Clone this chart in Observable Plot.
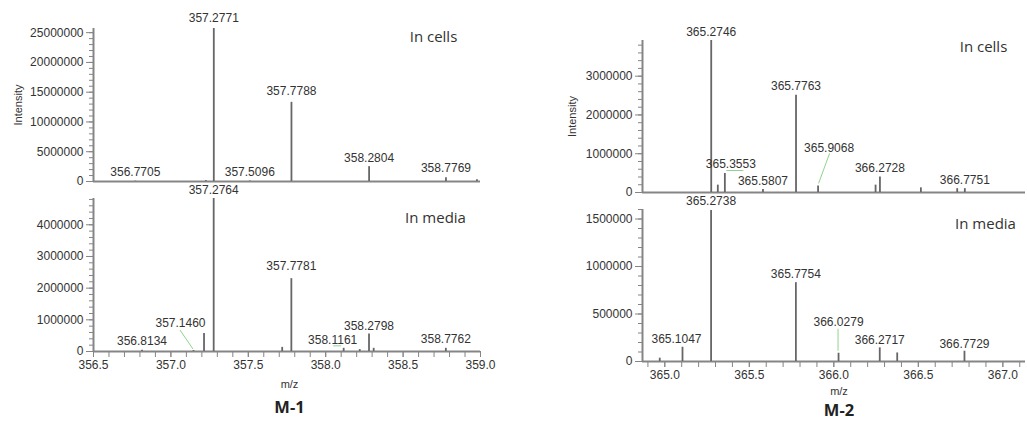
<!DOCTYPE html>
<html><head><meta charset="utf-8">
<script src="https://cdn.jsdelivr.net/npm/d3@7"></script>
<script src="https://cdn.jsdelivr.net/npm/@observablehq/plot@0.6"></script>
<style>
html,body{margin:0;padding:0;background:#fff;}
#chart{position:relative;width:1027px;height:421px;overflow:hidden;background:#fff;}
#chart svg{position:absolute;left:0;top:0;background:transparent !important;overflow:visible;max-width:none;}
</style></head><body><div id="chart"></div>
<script>
// ---------- DATA ----------
// M-1, in cells
const m1CellsMz  = [356.7705, 357.226, 357.2771, 357.5096, 357.7788, 358.2804, 358.7769, 358.977];
const m1CellsInt = [60000, 150000, 25700000, 80000, 13300000, 2500000, 650000, 300000];
const m1CellsLabeled = [356.7705, 357.2771, 357.5096, 357.7788, 358.2804, 358.7769];
// M-1, in media
const m1MediaMz  = [356.8134, 357.146, 357.214, 357.2764, 357.719, 357.7781, 358.1161, 358.22, 358.2798, 358.31, 358.7762];
const m1MediaInt = [40000, 30000, 570000, 4830000, 130000, 2300000, 100000, 60000, 550000, 100000, 100000];
const m1MediaLabeled = [356.8134, 357.146, 357.2764, 357.7781, 358.1161, 358.2798, 358.7762];
// M-2, in cells
const m2CellsMz  = [365.2746, 365.3136, 365.3553, 365.5807, 365.7763, 365.9068, 366.247, 366.2728, 366.515, 366.73, 366.7751];
const m2CellsInt = [3920000, 190000, 490000, 80000, 2510000, 170000, 190000, 400000, 120000, 100000, 100000];
const m2CellsLabeled = [365.2746, 365.3553, 365.5807, 365.7763, 365.9068, 366.2728, 366.7751];
// M-2, in media
const m2MediaMz  = [364.97, 365.1047, 365.2738, 365.7754, 366.0279, 366.2717, 366.375, 366.7729];
const m2MediaInt = [35000, 150000, 1590000, 830000, 87000, 144000, 90000, 108000];
const m2MediaLabeled = [365.1047, 365.2738, 365.7754, 366.0279, 366.2717, 366.7729];

// axis extents and ticks
const m1XDomain = [356.5, 359.0];
const m2XDomain = [364.868, 367.134];
const m1XTicks = [356.5, 357.0, 357.5, 358.0, 358.5, 359.0];
const m2XTicks = [365.0, 365.5, 366.0, 366.5, 367.0];
const m1CellsYMax = 25700000, m1MediaYMax = 4830000, m2CellsYMax = 3920000, m2MediaYMax = 1600000;
const m1CellsYTicks = [0, 5000000, 10000000, 15000000, 20000000, 25000000];
const m1MediaYTicks = [0, 1000000, 2000000, 3000000, 4000000];
const m2CellsYTicks = [0, 1000000, 2000000, 3000000];
const m2MediaYTicks = [0, 500000, 1000000, 1500000];
const panelTags = ["In cells", "In media", "In cells", "In media"];
const compoundNames = ["M-1", "M-2"];
const yTitle = "Intensity", xTitle = "m/z";

// ---------- LAYOUT / STYLE (pixels) ----------
const axisColor = "#858585", inkColor = "#333", peakColor = "#666", leaderColor = "#8fd48f";
const m1CellsLabelOff = [[0,-9],[0,-10],[0,-9],[0,-11],[0,-8],[0,-9]];
const m1MediaLabelOff = [[0,-9],[-13,-27],[0,-8],[0,-12],[-11,-8],[0,-8],[0,-9]];
const m2CellsLabelOff = [[0,-8],[6,-9],[0,-8],[0,-9],[11,-38],[0,-9],[0,-8]];
const m2MediaLabelOff = [[-6,-8],[0,-9],[0,-8],[0,-31],[0,-8],[0,-7]];
// leader lines: [mz, fromDx, fromDy, toDx, toDy] relative to peak top
const m1MediaLeaders = [[357.146,-13,-20,0,-1],[358.1161,-10,-2,-2,-2]];
const m2CellsLeaders = [[365.3553,2,-2.5,19,-2.5],[365.9068,12,-32,1,-2]];
const m2MediaLeaders = [[366.0279,0,-24,0,-2]];

function leaderMark(items, rows) {
  return (index, scales) => {
    const g = d3.create("svg:g");
    if (!scales || !scales.x || !scales.y) return g.node();
    for (const [mz, fx, fy, tx, ty] of items) {
      const r = rows.find(d => d.mz === mz);
      const px = scales.x(mz), py = scales.y(r.int);
      g.append("line").attr("x1", px + fx).attr("y1", py + fy).attr("x2", px + tx).attr("y2", py + ty)
        .attr("stroke", leaderColor).attr("stroke-width", 1);
    }
    return g.node();
  };
}

function panel(o) {
  const rows = o.mz.map((mz, i) => ({mz, int: o.int[i]}));
  const labels = o.labeled.map((mz, i) => ({mz, int: o.int[o.mz.indexOf(mz)], text: mz.toFixed(4), dx: o.off[i][0], dy: o.off[i][1]}));
  const yMinor = d3.range(0, o.yMax + 1, o.yMinorStep);
  const marks = [
    Plot.ruleY([0], {stroke: axisColor, strokeWidth: 2}),
    Plot.ruleX([o.xDomain[0]], {stroke: axisColor, strokeWidth: 2}),
    Plot.axisY(yMinor, {tickSize: 4, stroke: axisColor, tickFormat: () => "", label: null}),
    Plot.axisY(o.yTicks, {tickSize: 7, tickPadding: 3, stroke: axisColor, fill: inkColor, tickFormat: d3.format("d"), label: null, fontSize: 12}),
    Plot.ruleX(rows, {x: "mz", y1: 0, y2: "int", stroke: peakColor, strokeWidth: 1.8}),
    ...labels.map(l => Plot.text([l], {x: "mz", y: "int", text: "text", dx: l.dx, dy: l.dy, fill: inkColor, fontSize: 12})),
    Plot.text([o.tag], {text: d => d, frameAnchor: "top-right", textAnchor: "middle", lineAnchor: "middle", dx: o.tagDx, dy: o.tagDy, fontFamily: "Open Sans", fontSize: 15, fill: "#333"})
  ];
  if (o.leaders) marks.push(leaderMark(o.leaders, rows));
  if (o.yTitleDx) marks.push(Plot.text([yTitle], {text: d => d, frameAnchor: "left", rotate: -90, dx: o.yTitleDx, textAnchor: "middle", lineAnchor: "middle", fontSize: 11, fill: inkColor}));
  if (o.bottom) {
    const xMinor = d3.range(Math.ceil(o.xDomain[0] * 10), Math.floor(o.xDomain[1] * 10) + 1).map(v => v / 10);
    marks.push(
      Plot.axisX(xMinor, {tickSize: 6, stroke: axisColor, tickFormat: () => "", label: null}),
      Plot.axisX(o.xTicks, {tickSize: 6, tickPadding: 3, stroke: axisColor, fill: inkColor, tickFormat: d => d.toFixed(1), label: null, fontSize: 12}),
      Plot.text([xTitle], {text: d => d, frameAnchor: "bottom", lineAnchor: "middle", dx: o.nameDx, dy: o.xTitleDy, fontSize: 11, fill: inkColor}),
      Plot.text([o.name], {text: d => d, frameAnchor: "bottom", lineAnchor: "middle", dx: o.nameDx, dy: o.nameDy, fontFamily: "Open Sans", fontWeight: "bold", fontSize: 16.5, fill: "#222"})
    );
  }
  return Plot.plot({
    width: 1027, height: 421,
    marginLeft: o.m[0], marginRight: o.m[1], marginTop: o.m[2], marginBottom: o.m[3],
    x: {domain: o.xDomain, axis: null},
    y: {domain: [0, o.yMax], axis: null},
    style: {background: "transparent", overflow: "visible", fontFamily: "'Liberation Sans', Arial, sans-serif", fontSize: "12px", color: inkColor},
    marks
  });
}

const chart = document.getElementById("chart");
const specs = [
  {mz: m1CellsMz, int: m1CellsInt, labeled: m1CellsLabeled, off: m1CellsLabelOff, xDomain: m1XDomain, yMax: m1CellsYMax, yTicks: m1CellsYTicks, yMinorStep: 1000000,
   m: [93, 547, 28, 240], tag: panelTags[0], tagDx: -47, tagDy: 9, yTitleDx: -75},
  {mz: m1MediaMz, int: m1MediaInt, labeled: m1MediaLabeled, off: m1MediaLabelOff, xDomain: m1XDomain, yMax: m1MediaYMax, yTicks: m1MediaYTicks, yMinorStep: 200000,
   m: [93, 547, 198, 70], tag: panelTags[1], tagDx: -45, tagDy: 20, leaders: m1MediaLeaders, bottom: true, xTicks: m1XTicks, name: compoundNames[0], nameDx: 2.5, nameDy: 56, xTitleDy: 33},
  {mz: m2CellsMz, int: m2CellsInt, labeled: m2CellsLabeled, off: m2CellsLabelOff, xDomain: m2XDomain, yMax: m2CellsYMax, yTicks: m2CellsYTicks, yMinorStep: 200000,
   m: [642, 2, 40, 229], tag: panelTags[2], tagDx: -42, tagDy: 7, leaders: m2CellsLeaders, yTitleDx: -70},
  {mz: m2MediaMz, int: m2MediaInt, labeled: m2MediaLabeled, off: m2MediaLabelOff, xDomain: m2XDomain, yMax: m2MediaYMax, yTicks: m2MediaYTicks, yMinorStep: 100000,
   m: [642, 2, 209, 60], tag: panelTags[3], tagDx: -40, tagDy: 15, leaders: m2MediaLeaders, bottom: true, xTicks: m2XTicks, name: compoundNames[1], nameDx: 5, nameDy: 49, xTitleDy: 30}
];
for (const s of specs) chart.appendChild(panel(s));
</script>
</body></html>
